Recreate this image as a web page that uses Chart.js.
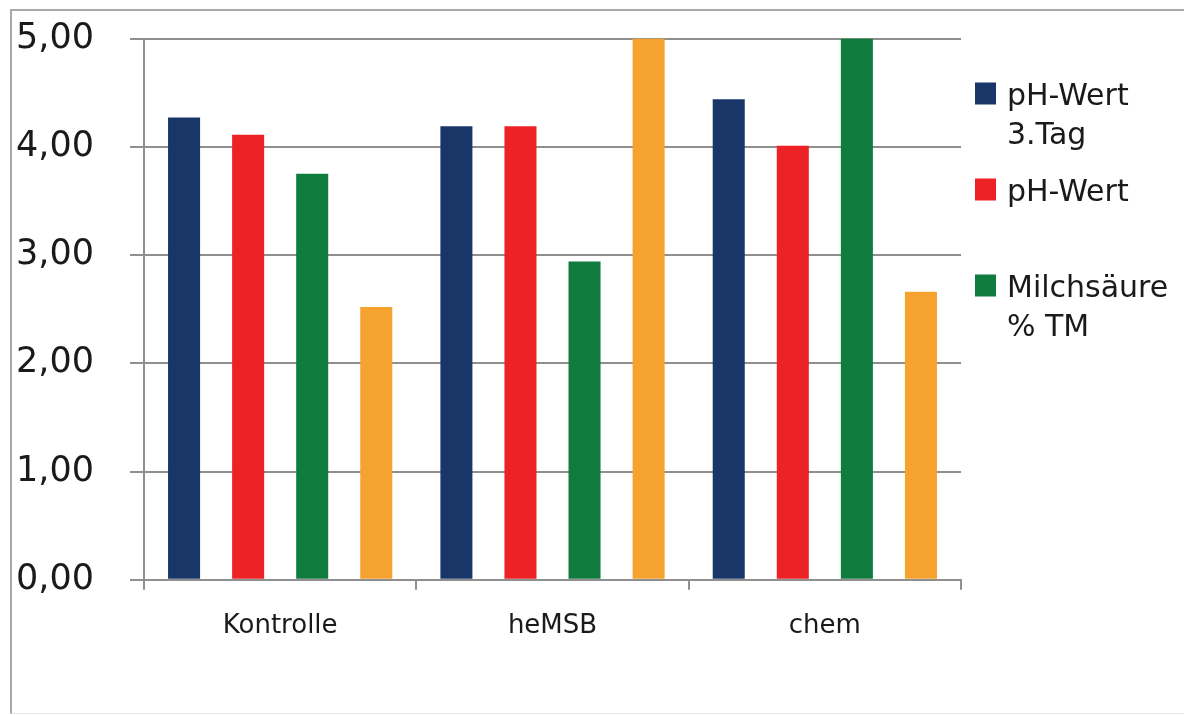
<!DOCTYPE html>
<html>
<head>
<meta charset="utf-8">
<script src="https://cdn.jsdelivr.net/npm/chart.js@4.4.1/dist/chart.umd.min.js"></script>
<style>
  html, body { margin: 0; padding: 0; background: #fff; }
  #wrap { position: relative; width: 1184px; height: 715px; overflow: hidden; }
  #frame { position: absolute; left: 10px; top: 9px; width: 1200px; height: 702px;
           border-top: 2px solid #a8a8a8; border-left: 2px solid #a8a8a8; border-bottom: 1px solid #e6e6e6; }
  canvas { position: absolute; left: 0; top: 0; }
</style>
</head>
<body>
<div id="wrap">
  <div id="frame"></div>
  <canvas id="c" width="1184" height="715"></canvas>
</div>
<script>
// Kategorien und Messwerte
const categories = ["Kontrolle", "heMSB", "chem"];
const seriesNames = ["pH-Wert 3.Tag", "pH-Wert", "Milchsäure % TM", "Datenreihe 4"];
const legendLines = [["pH-Wert", "3.Tag"], ["pH-Wert"], ["Milchsäure", "% TM"]];
const phDay3   = [4.27, 4.19, 4.44];
const phValue  = [4.11, 4.19, 4.01];
const lactic   = [3.75, 2.94, 5.00];
const series4  = [2.52, 5.00, 2.66];
const yTickLabels = ["0,00", "1,00", "2,00", "3,00", "4,00", "5,00"];
const seriesColors = ["#1a3668", "#ec2224", "#0f7b3c", "#f6a22f"];

const FONT = '"DejaVu Sans", sans-serif';
const TEXT = '#1a1a1a';
const GRID = '#8f8f8f';

// Legende rechts neben der Zeichenfläche, mehrzeilige Einträge
const sideLegend = {
  id: 'sideLegend',
  afterDraw(chart) {
    const { ctx, chartArea } = chart;
    ctx.save();
    ctx.font = '30px ' + FONT;
    ctx.textBaseline = 'alphabetic';
    ctx.textAlign = 'left';
    legendLines.forEach((lines, i) => {
      const ds = chart.data.datasets[i];
      const base = chartArea.top + 66 + i * 96;
      ctx.fillStyle = ds.backgroundColor;
      ctx.fillRect(chartArea.right + 14, base - 22, 21, 22);
      ctx.fillStyle = TEXT;
      lines.forEach((t, k) => ctx.fillText(t, chartArea.right + 46, base + k * 39));
    });
    ctx.restore();
  }
};

const valueSets = [phDay3, phValue, lactic, series4];

new Chart(document.getElementById('c'), {
  type: 'bar',
  data: {
    labels: categories,
    datasets: valueSets.map((vals, i) => ({
      label: seriesNames[i],
      data: vals,
      backgroundColor: seriesColors[i],
      borderWidth: 0,
      categoryPercentage: 0.941,
      barPercentage: 0.5
    }))
  },
  options: {
    responsive: false,
    animation: false,
    devicePixelRatio: 1,
    layout: { padding: { left: 16, top: 38.5, right: 223, bottom: 52 } },
    plugins: {
      legend: { display: false },
      tooltip: { enabled: false },
      title: { display: false }
    },
    scales: {
      x: {
        grid: { display: true, drawOnChartArea: false, drawTicks: true, tickLength: 10, color: GRID, lineWidth: 2, offset: true },
        border: { display: true, color: GRID, width: 2 },
        ticks: { font: { family: FONT, size: 26 }, color: TEXT, padding: 21 }
      },
      y: {
        min: 0,
        max: 5,
        ticks: {
          stepSize: 1,
          font: { family: FONT, size: 35 },
          color: TEXT,
          padding: 0,
          crossAlign: 'far',
          callback: (v, i) => yTickLabels[i]
        },
        grid: { color: GRID, lineWidth: 2, tickLength: 14 },
        border: { display: true, color: GRID, width: 2 },
        afterFit: (s) => { s.width = 128; }
      }
    }
  },
  plugins: [sideLegend]
});
</script>
</body>
</html>
